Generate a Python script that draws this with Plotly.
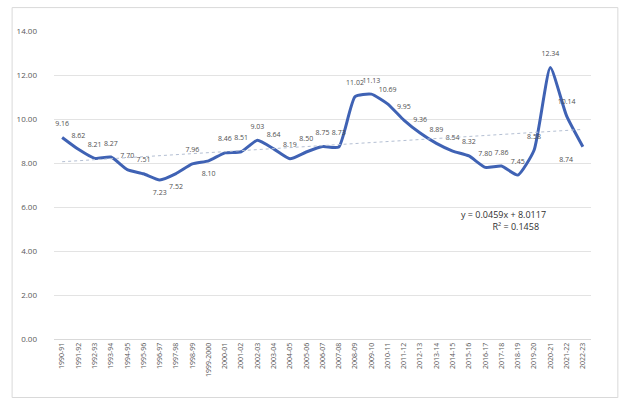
import plotly.graph_objects as go

# Fiscal years on the category axis
years = [
    "1990-91", "1991-92", "1992-93", "1993-94", "1994-95", "1995-96", "1996-97",
    "1997-98", "1998-99", "1999-2000", "2000-01", "2001-02", "2002-03", "2003-04",
    "2004-05", "2005-06", "2006-07", "2007-08", "2008-09", "2009-10", "2010-11",
    "2011-12", "2012-13", "2013-14", "2014-15", "2015-16", "2016-17", "2017-18",
    "2018-19", "2019-20", "2020-21", "2021-22", "2022-23",
]

# Annual values
values = [
    9.16, 8.62, 8.21, 8.27, 7.70, 7.51, 7.23,
    7.52, 7.96, 8.10, 8.46, 8.51, 9.03, 8.64,
    8.19, 8.50, 8.75, 8.73, 11.02, 11.13, 10.69,
    9.95, 9.36, 8.89, 8.54, 8.32, 7.80, 7.86,
    7.45, 8.58, 12.34, 10.14, 8.74,
]

# Linear trend as reported on the chart
trend_slope = 0.0459
trend_intercept = 8.0117
trend_r2 = 0.1458

y_ticks = [0, 2, 4, 6, 8, 10, 12, 14]

# Where each value label sits relative to its point
label_pos = ["top center"] * len(years)
for i in (6, 7, 9):
    label_pos[i] = "bottom center"
label_pos[32] = "bottom left"

trend_x = [years[0], years[-1]]
trend_y = [trend_slope * 1 + trend_intercept,
           trend_slope * len(years) + trend_intercept]

fig = go.Figure()

fig.add_trace(go.Scatter(
    x=years, y=values, mode="lines+markers+text",
    line=dict(color="#3F62B4", width=3, shape="spline", smoothing=0.5),
    # invisible markers give the value labels some clearance from the line
    marker=dict(size=14, opacity=0),
    text=[f"{v:.2f}" for v in values],
    textposition=label_pos,
    textfont=dict(family="Open Sans, Arial, sans-serif", size=7, color="#505050"),
    cliponaxis=False,
    showlegend=False,
))

fig.add_trace(go.Scatter(
    x=trend_x, y=trend_y, mode="lines",
    line=dict(color="#B4BFD3", width=1, dash="dot"),
    hoverinfo="skip", showlegend=False,
))

fig.add_annotation(
    x=0.92, y=0.386, xref="paper", yref="paper", xanchor="right",
    text=f"y = {trend_slope}x + {trend_intercept}<br>R² = {trend_r2}   ",
    showarrow=False, align="right",
    font=dict(family="Open Sans, Arial, sans-serif", size=9, color="#303030"),
)

# Light frame around the chart area
fig.add_shape(
    type="rect", xref="paper", yref="paper",
    x0=-0.078, x1=1.05, y0=-0.19, y1=1.076,
    line=dict(color="#D9D9D9", width=1), fillcolor="rgba(0,0,0,0)", layer="below",
)

fig.update_layout(
    width=619, height=400,
    margin=dict(l=54, r=28, t=31, b=61),
    paper_bgcolor="white", plot_bgcolor="white",
    font=dict(family="Open Sans, Arial, sans-serif", color="#595959"),
)

fig.update_xaxes(
    type="category", categoryorder="array", categoryarray=years,
    range=[-0.5, len(years) - 0.5],
    tickangle=-90, tickfont=dict(size=7, color="#595959"),
    showgrid=False, showline=True, linecolor="#D9D9D9", linewidth=1,
    ticks="", zeroline=False,
)

fig.update_yaxes(
    range=[0, 14], tickvals=y_ticks,
    ticktext=[f"{t:.2f}" for t in y_ticks],
    tickfont=dict(size=8, color="#595959"),
    showgrid=True, gridcolor="#E3E3E3", gridwidth=1,
    zeroline=False, showline=False, ticklabelstandoff=16,
)

fig.write_html("out.html")
